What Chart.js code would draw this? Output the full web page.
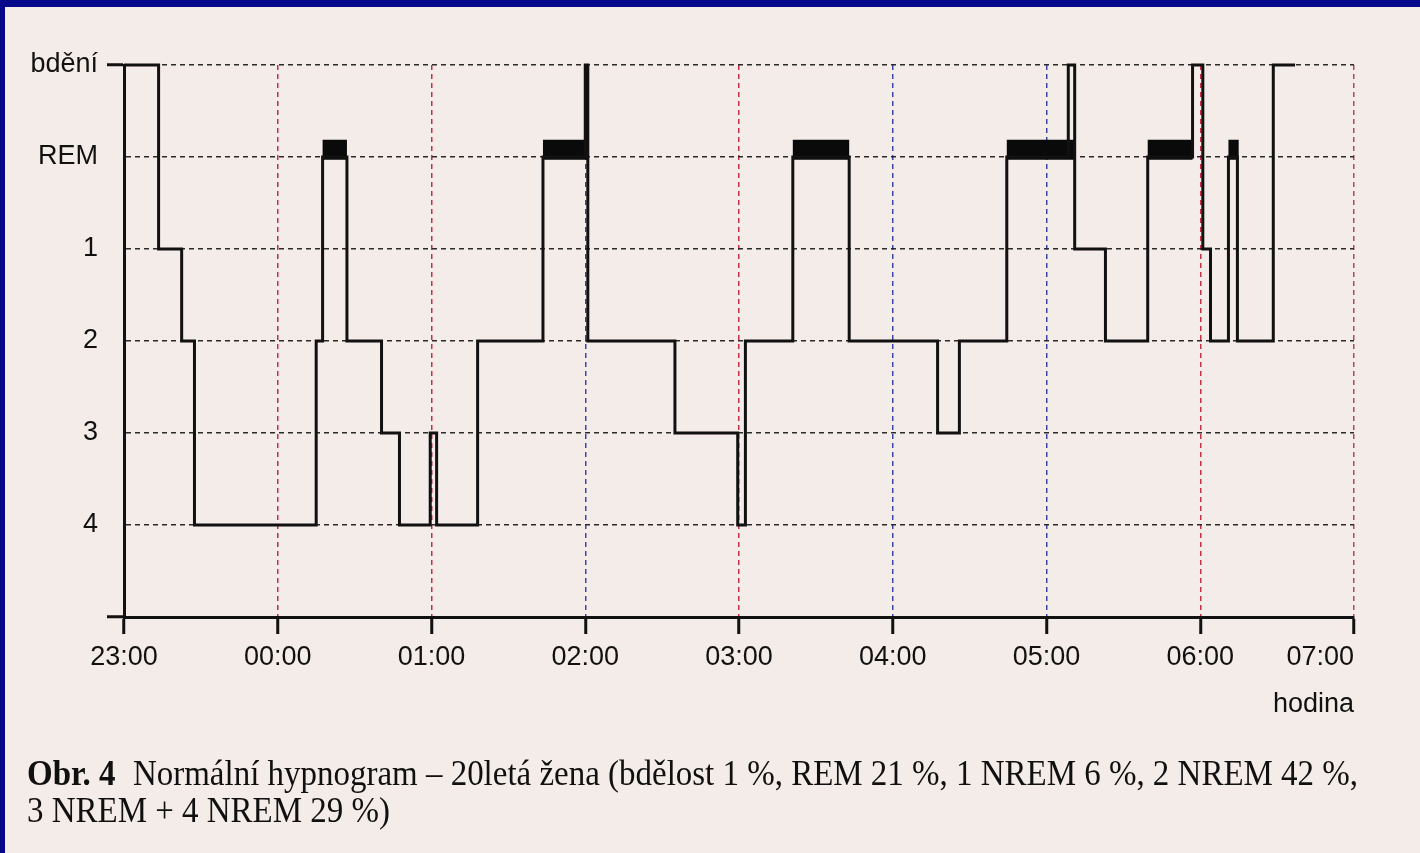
<!DOCTYPE html>
<html>
<head>
<meta charset="utf-8">
<script src="https://cdn.jsdelivr.net/npm/chart.js@4.4.1/dist/chart.umd.min.js"></script>
<style>
  html, body { margin: 0; padding: 0; width: 1420px; height: 853px; overflow: hidden; background: #f4ece8; }
  #wrap { position: absolute; left: 0; top: 0; width: 1420px; height: 853px; }
  #frameTop { position: absolute; left: 0; top: 0; width: 1420px; height: 7px; background: #06088c; }
  #frameLeft { position: absolute; left: 0; top: 0; width: 5px; height: 853px; background: #06088c; }
  .cap { position: absolute; left: 27px; font-family: "Liberation Serif", "Times New Roman", serif; font-size: 36px; line-height: 36px; color: #101010; white-space: nowrap; transform-origin: 0 0; }
  .cap b { font-weight: bold; margin-right: 10px; }
</style>
</head>
<body>
<div id="wrap"><canvas id="c" width="1420" height="853"></canvas></div>
<div id="frameTop"></div>
<div id="frameLeft"></div>
<div class="cap" id="cap1" style="top:755px"><b>Obr. 4</b> Normální hypnogram – 20letá žena (bdělost 1 %, REM 21 %, 1 NREM 6 %, 2 NREM 42 %,</div>
<div class="cap" id="cap2" style="top:792px">3 NREM + 4 NREM 29 %)</div>
<script>
// ---- data (minutes after 23:00) ----
const hourLabels = ['23:00', '00:00', '01:00', '02:00', '03:00', '04:00', '05:00', '06:00', '07:00'];
const stageLabels = ['bdění', 'REM', '1', '2', '3', '4'];
const axisTitle = 'hodina';

// start of each stage episode and the stage entered
const stageStart = [0, 13.5, 22.5, 27.5, 75, 77.5, 87, 100.5, 107.5, 119.5, 122, 138, 163.5, 180, 181, 215, 239.5, 242.5, 261, 283, 317.5, 326, 344.5, 368.5, 371, 383, 399.5, 417, 421, 424, 431, 434.5, 448.5];
const stageName  = ['bdění', '1', '2', '4', '2', 'REM', '2', '3', '4', '3', '4', '2', 'REM', 'bdění', '2', '3', '4', '2', 'REM', '2', '3', '2', 'REM', 'bdění', '1', '2', 'REM', 'bdění', '1', '2', 'REM', '2', 'bdění'];
const recordEnd = 457;

// REM periods drawn as heavy bars (start, end)
const remStart = [77.5, 163.5, 261, 344.5, 399.5, 431];
const remEnd   = [87, 181, 283, 371.5, 417, 435];

// ---- build chart data from the arrays ----
const lvl = name => stageLabels.indexOf(name);
const trace = stageStart.map((s, i) => ({ x: s, y: lvl(stageName[i]) }));
trace.push({ x: recordEnd, y: lvl(stageName[stageName.length - 1]) });

const barLift = 0.08; // heavy REM bar sits slightly above the REM line
const remBars = [];
remStart.forEach((s, i) => {
  const y = lvl('REM') - barLift;
  remBars.push({ x: s, y: y }, { x: remEnd[i], y: y }, { x: remEnd[i], y: null });
});

const vColors = ['rgba(0,0,0,0)', '#c43048', '#c43048', '#3a46a8', '#c43048', '#3a46a8', '#3a46a8', '#c43048', '#b04a60'];
const tickFont = { family: "'Liberation Sans', Arial, sans-serif", size: 27 };

new Chart(document.getElementById('c'), {
  type: 'line',
  data: {
    datasets: [
      {
        data: trace,
        stepped: 'before',
        borderColor: '#111',
        borderWidth: 3,
        pointRadius: 0,
        fill: false,
        clip: false,
        borderJoinStyle: 'miter',
        borderCapStyle: 'butt'
      },
      {
        data: remBars,
        borderColor: '#0a0a0a',
        borderWidth: 20,
        pointRadius: 0,
        fill: false,
        spanGaps: false,
        clip: false,
        borderCapStyle: 'butt'
      }
    ]
  },
  options: {
    responsive: false,
    animation: false,
    events: [],
    layout: { padding: { left: 0, top: 65, right: 66, bottom: 128 } },
    plugins: { legend: { display: false }, tooltip: { enabled: false }, title: { display: false } },
    scales: {
      x: {
        type: 'linear',
        min: 0,
        max: (hourLabels.length - 1) * 60,
        afterFit: s => { s.height = 108; s.paddingLeft = 0; s.paddingRight = 0; },
        afterBuildTicks: s => { s.ticks = hourLabels.map((_, i) => ({ value: i * 60 })); },
        ticks: {
          autoSkip: false,
          maxRotation: 0,
          padding: 7,
          color: '#111',
          font: tickFont,
          // the last label is printed flush with the axis end
          callback: (v) => {
            const i = Math.round(v / 60);
            return i === hourLabels.length - 1 ? hourLabels[i] + '\u00a0'.repeat(9) : hourLabels[i];
          }
        },
        grid: {
          color: ctx => vColors[ctx.index] || '#333',
          lineWidth: 1.5,
          tickLength: 17,
          tickColor: '#111',
          tickWidth: 3,
          tickBorderDash: []
        },
        border: { display: true, color: '#111', width: 3, dash: [5, 4] },
        title: {
          display: true,
          text: axisTitle,
          align: 'end',
          color: '#111',
          font: tickFont,
          padding: { top: 4, bottom: 4 }
        }
      },
      y: {
        type: 'linear',
        reverse: true,
        min: 0,
        max: stageLabels.length,
        afterFit: s => { s.width = 124; },
        afterBuildTicks: s => { s.ticks = stageLabels.map((_, i) => ({ value: i })).concat([{ value: stageLabels.length }]); },
        ticks: {
          autoSkip: false,
          padding: 9,
          color: '#111',
          font: tickFont,
          callback: (v) => stageLabels[v] !== undefined ? stageLabels[v] : ''
        },
        grid: {
          color: ctx => (ctx.tick && ctx.tick.value === stageLabels.length) ? 'rgba(0,0,0,0)' : '#2a2a2a',
          lineWidth: 1.5,
          tickLength: 17,
          tickWidth: 3,
          tickColor: ctx => (ctx.tick && (ctx.tick.value === 0 || ctx.tick.value === stageLabels.length)) ? '#111' : 'rgba(0,0,0,0)',
          tickBorderDash: []
        },
        border: { display: true, color: '#111', width: 3, dash: [5, 4] }
      }
    }
  }
});

// fit caption to the printed width
const c1 = document.getElementById('cap1');
const c2 = document.getElementById('cap2');
const w = c1.getBoundingClientRect().width;
const k = 1331 / w;
c1.style.transform = 'scaleX(' + k + ')';
c2.style.transform = 'scaleX(' + k + ')';
</script>
</body>
</html>
